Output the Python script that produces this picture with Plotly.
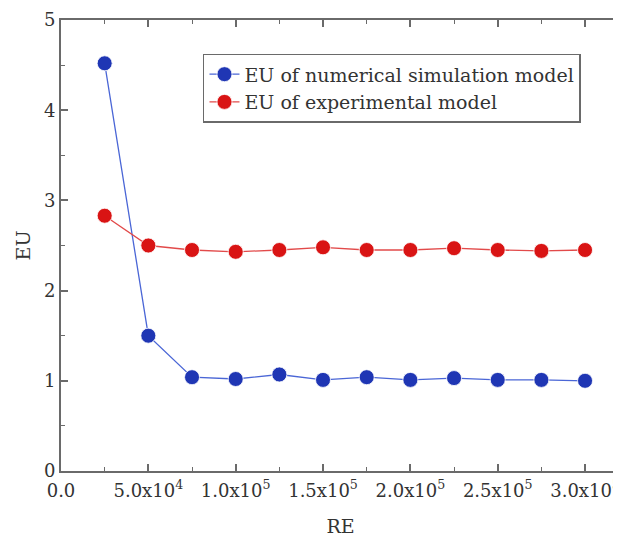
import plotly.graph_objects as go

re_vals = [25000, 50000, 75000, 100000, 125000, 150000, 175000, 200000, 225000, 250000, 275000, 300000]
eu_numerical = [4.52, 1.50, 1.04, 1.02, 1.07, 1.01, 1.04, 1.01, 1.03, 1.01, 1.01, 1.00]
eu_experimental = [2.83, 2.50, 2.45, 2.43, 2.45, 2.48, 2.45, 2.45, 2.47, 2.45, 2.44, 2.45]
x_tickvals = [0, 50000, 100000, 150000, 200000, 250000, 300000]
x_ticktext = ["0.0", "5.0x10<sup>4</sup>", "1.0x10<sup>5</sup>", "1.5x10<sup>5</sup>",
              "2.0x10<sup>5</sup>", "2.5x10<sup>5</sup>", "3.0x10<sup>5</sup>"]
y_tickvals = [0, 1, 2, 3, 4, 5]

font_family = "DejaVu Serif"

fig = go.Figure()
fig.add_trace(go.Scatter(
    x=re_vals, y=eu_numerical, mode="lines+markers",
    name="EU of numerical simulation model",
    line=dict(color="#4a66d6", width=1.3),
    marker=dict(symbol="circle", size=15, color="#1f36b4", line=dict(color="#ffffff", width=0.8)),
))
fig.add_trace(go.Scatter(
    x=re_vals, y=eu_experimental, mode="lines+markers",
    name="EU of experimental model",
    line=dict(color="#e24a4a", width=1.3),
    marker=dict(symbol="circle", size=15, color="#d91414", line=dict(color="#ffffff", width=0.8)),
))

axis_common = dict(
    showline=True, linecolor="#6a6a6a", linewidth=2, mirror="ticks",
    ticks="inside", ticklen=7, tickwidth=1.5, tickcolor="#6a6a6a",
    showgrid=False, zeroline=False, ticklabeloverflow="allow", automargin=False,
    tickfont=dict(family=font_family, size=18, color="#333333"),
)

fig.update_xaxes(
    **axis_common,
    range=[0, 320000],
    tickmode="array", tickvals=x_tickvals, ticktext=x_ticktext,
    ticklabelstandoff=2,
    minor=dict(dtick=25000, tick0=0, ticks="inside", ticklen=4, tickcolor="#6a6a6a", tickwidth=1.2),
    title=dict(text="RE", font=dict(family=font_family, size=19, color="#333333"), standoff=20),
)
fig.update_yaxes(
    **axis_common,
    range=[0, 5],
    tickmode="array", tickvals=y_tickvals,
    minor=dict(dtick=0.5, tick0=0, ticks="inside", ticklen=4, tickcolor="#6a6a6a", tickwidth=1.2),
    title=dict(text="EU", font=dict(family=font_family, size=19, color="#333333"), standoff=8),
)

fig.update_layout(
    width=613, height=535,
    margin=dict(l=53, r=1, t=12, b=72),
    plot_bgcolor="white", paper_bgcolor="white",
    font=dict(family=font_family, color="#333333"),
    legend=dict(
        x=0.254, y=0.925, xanchor="left", yanchor="top",
        bgcolor="white", bordercolor="#6a6a6a", borderwidth=1.5,
        font=dict(family=font_family, size=19, color="#333333"),
        itemwidth=30, tracegroupgap=0,
    ),
    showlegend=True,
)

fig.write_html("out.html")
